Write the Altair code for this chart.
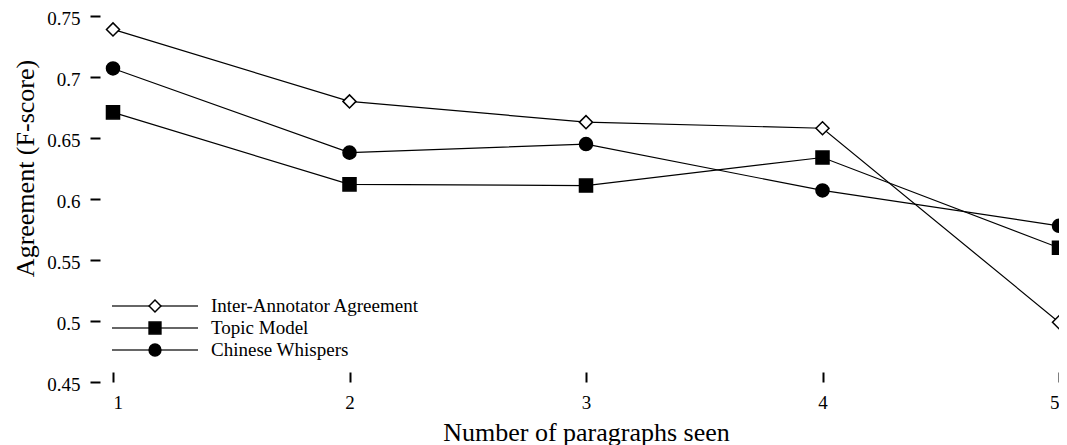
import altair as alt
import pandas as pd

paragraphs = [1, 2, 3, 4, 5]
series_names = ["Inter-Annotator Agreement", "Topic Model", "Chinese Whispers"]
iaa = [0.739, 0.680, 0.663, 0.658, 0.499]
topic_model = [0.671, 0.612, 0.611, 0.634, 0.560]
chinese_whispers = [0.707, 0.638, 0.645, 0.607, 0.578]
y_ticks = [0.45, 0.5, 0.55, 0.6, 0.65, 0.7, 0.75]

rows = []
for name, vals in zip(series_names, [iaa, topic_model, chinese_whispers]):
    for p, v in zip(paragraphs, vals):
        rows.append({"paragraphs": p, "score": v, "series": name})
df = pd.DataFrame(rows)
leg_df = pd.DataFrame({"series": series_names})

FONT = "Liberation Serif"
shape_scale = alt.Scale(domain=series_names, range=["diamond", "square", "circle"])
fill_scale = alt.Scale(domain=series_names, range=["white", "black", "black"])

x_enc = alt.X(
    "paragraphs:Q",
    scale=alt.Scale(domain=[1, 5], nice=False, zero=False),
    axis=alt.Axis(
        values=paragraphs, format="d", domain=False, grid=False,
        tickSize=10, tickWidth=2, tickColor="black", offset=-10,
        labelPadding=11, labelFontSize=19, labelFont=FONT, labelColor="black",
        title="Number of paragraphs seen", titleFont=FONT, titleFontSize=26,
        titleFontWeight="normal", titleColor="black",
        titleBaseline="alphabetic", titleY=68,
    ),
)
y_enc = alt.Y(
    "score:Q",
    scale=alt.Scale(domain=[0.45, 0.75], nice=False, zero=False),
    axis=alt.Axis(
        values=y_ticks, format="~g", domain=False, grid=False,
        tickSize=10, tickWidth=2, tickColor="black", offset=13,
        labelPadding=10, labelFontSize=19, labelFont=FONT, labelColor="black",
        labelOffset=2,
        title="Agreement (F-score)", titleFont=FONT, titleFontSize=26,
        titleFontWeight="normal", titleColor="black",
        titleBaseline="alphabetic", titleAlign="center", titleAngle=270,
        titleX=-67, titleY=152,
    ),
)

lines = alt.Chart(df).mark_line(color="black", strokeWidth=1.2).encode(
    x=x_enc, y=y_enc, detail="series:N"
)
points = alt.Chart(df).mark_point(
    filled=False, stroke="black", strokeWidth=1.5, size=170, opacity=1
).encode(
    x=x_enc, y=y_enc,
    shape=alt.Shape("series:N", scale=shape_scale, legend=None),
    fill=alt.Fill("series:N", scale=fill_scale, legend=None),
)
main = alt.layer(lines, points)

leg_y = alt.Y(
    "series:N", sort=series_names, axis=None,
    scale=alt.Scale(type="point", range=[290, 334], padding=0),
)
leg_rule = alt.Chart(leg_df).mark_rule(color="#333", strokeWidth=1.3).encode(
    x=alt.value(-1), x2=alt.value(85), y=leg_y
)
leg_pt = alt.Chart(leg_df).mark_point(
    filled=False, stroke="black", strokeWidth=1.5, size=140, opacity=1
).encode(
    x=alt.value(42), y=leg_y,
    shape=alt.Shape("series:N", scale=shape_scale, legend=None),
    fill=alt.Fill("series:N", scale=fill_scale, legend=None),
)
leg_txt = alt.Chart(leg_df).mark_text(
    align="left", baseline="middle", font=FONT, fontSize=19, color="black"
).encode(x=alt.value(98), y=leg_y, text="series:N")
legend = alt.layer(leg_rule, leg_pt, leg_txt)

chart = (
    alt.layer(main, legend)
    .resolve_scale(y="independent")
    .properties(
        width=946, height=366,
        autosize=alt.AutoSizeParams(type="none"),
        padding={"left": 105, "top": 8, "right": 0, "bottom": 63},
    )
    .configure(font=FONT)
    .configure_axis(labelFont=FONT, titleFont=FONT)
    .configure_view(stroke=None)
)

chart.save("out.html", embed_options={"renderer": "svg", "actions": False})
